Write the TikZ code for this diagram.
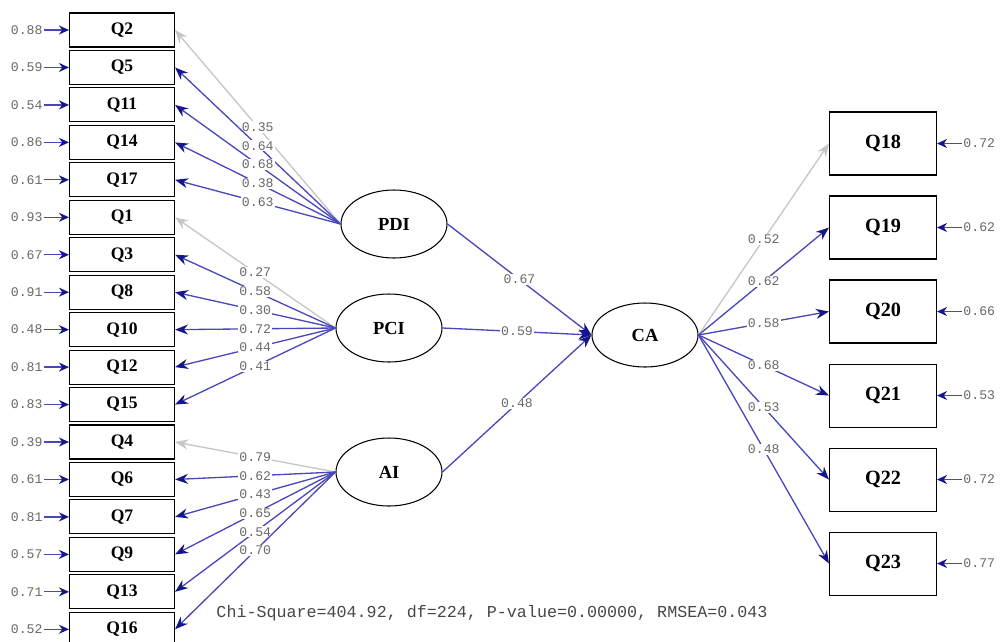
\documentclass[tikz,border=0pt]{standalone}
\usepackage{fontspec}
\setmainfont{Liberation Serif}
\setmonofont{Liberation Mono}
\usepackage{xcolor}
\usetikzlibrary{shapes.geometric,positioning,arrows.meta}
\definecolor{loadblue}{RGB}{72,72,186}
\definecolor{tipblue}{RGB}{22,22,140}
\definecolor{fixgray}{RGB}{198,198,198}
\definecolor{numgray}{RGB}{105,105,105}

\begin{document}
\begin{tikzpicture}[x=0.2mm, y=-0.2mm, node distance=0.48mm,
    item/.style={draw, rectangle, line width=0.6pt, minimum width=21mm, minimum height=6.8mm, inner sep=0pt, font=\fontsize{10}{12}\selectfont\bfseries},
    bigitem/.style={draw, rectangle, line width=0.6pt, minimum width=21.4mm, minimum height=12.6mm, inner sep=0pt, font=\fontsize{11.5}{13}\selectfont\bfseries},
    latent/.style={draw, ellipse, line width=0.6pt, minimum width=21.2mm, minimum height=13.6mm, inner sep=0pt, font=\fontsize{10.5}{12}\selectfont\bfseries},
    num/.style={font=\ttfamily\fontsize{7.5}{8}\selectfont, text=numgray, fill=white, inner sep=0.6pt},
    load/.style={draw=loadblue, line width=0.75pt, -{Stealth[length=2.6mm,width=2mm,color=tipblue]}},
    fixed/.style={draw=fixgray, line width=0.75pt, -{Stealth[length=2.6mm,width=2mm]}},
    errline/.style={draw=loadblue, line width=0.75pt, -{Stealth[length=2mm,width=1.8mm,color=tipblue]}}]
    \useasboundingbox (0,0) rectangle (1000,641);

    % indicators, left column
    \node [item] (Q2) at (122,30) {Q2};
    \node [item, below=of Q2] (Q5) {Q5};
    \node [item, below=of Q5] (Q11) {Q11};
    \node [item, below=of Q11] (Q14) {Q14};
    \node [item, below=of Q14] (Q17) {Q17};
    \node [item, below=of Q17] (Q1) {Q1};
    \node [item, below=of Q1] (Q3) {Q3};
    \node [item, below=of Q3] (Q8) {Q8};
    \node [item, below=of Q8] (Q10) {Q10};
    \node [item, below=of Q10] (Q12) {Q12};
    \node [item, below=of Q12] (Q15) {Q15};
    \node [item, below=of Q15] (Q4) {Q4};
    \node [item, below=of Q4] (Q6) {Q6};
    \node [item, below=of Q6] (Q7) {Q7};
    \node [item, below=of Q7] (Q9) {Q9};
    \node [item, below=of Q9] (Q13) {Q13};
    \node [item, below=of Q13] (Q16) {Q16};

    % error variances, left
    \node [num, left=5mm of Q2] (eQ2) {0.88};
    \node [num, left=5mm of Q5] (eQ5) {0.59};
    \node [num, left=5mm of Q11] (eQ11) {0.54};
    \node [num, left=5mm of Q14] (eQ14) {0.86};
    \node [num, left=5mm of Q17] (eQ17) {0.61};
    \node [num, left=5mm of Q1] (eQ1) {0.93};
    \node [num, left=5mm of Q3] (eQ3) {0.67};
    \node [num, left=5mm of Q8] (eQ8) {0.91};
    \node [num, left=5mm of Q10] (eQ10) {0.48};
    \node [num, left=5mm of Q12] (eQ12) {0.81};
    \node [num, left=5mm of Q15] (eQ15) {0.83};
    \node [num, left=5mm of Q4] (eQ4) {0.39};
    \node [num, left=5mm of Q6] (eQ6) {0.61};
    \node [num, left=5mm of Q7] (eQ7) {0.81};
    \node [num, left=5mm of Q9] (eQ9) {0.57};
    \node [num, left=5mm of Q13] (eQ13) {0.71};
    \node [num, left=5mm of Q16] (eQ16) {0.52};
    \draw [errline] (eQ2) -- (Q2);
    \draw [errline] (eQ5) -- (Q5);
    \draw [errline] (eQ11) -- (Q11);
    \draw [errline] (eQ14) -- (Q14);
    \draw [errline] (eQ17) -- (Q17);
    \draw [errline] (eQ1) -- (Q1);
    \draw [errline] (eQ3) -- (Q3);
    \draw [errline] (eQ8) -- (Q8);
    \draw [errline] (eQ10) -- (Q10);
    \draw [errline] (eQ12) -- (Q12);
    \draw [errline] (eQ15) -- (Q15);
    \draw [errline] (eQ4) -- (Q4);
    \draw [errline] (eQ6) -- (Q6);
    \draw [errline] (eQ7) -- (Q7);
    \draw [errline] (eQ9) -- (Q9);
    \draw [errline] (eQ13) -- (Q13);
    \draw [errline] (eQ16) -- (Q16);

    % latent variables
    \node [latent] (PDI) at (394,224) {PDI};
    \node [latent] (PCI) at (389,328) {PCI};
    \node [latent] (AI) at (389,472) {AI};
    \node [latent, minimum height=12.8mm] (CA) at (645,335) {CA};

    % loadings PDI
    \draw [fixed] (PDI.west) -- node [num] {0.35} (Q2.east);
    \draw [load] (PDI.west) -- node [num] {0.64} (Q5.east);
    \draw [load] (PDI.west) -- node [num] {0.68} (Q11.east);
    \draw [load] (PDI.west) -- node [num] {0.38} (Q14.east);
    \draw [load] (PDI.west) -- node [num] {0.63} (Q17.east);

    % loadings PCI
    \draw [fixed] (PCI.west) -- node [num] {0.27} (Q1.east);
    \draw [load] (PCI.west) -- node [num] {0.58} (Q3.east);
    \draw [load] (PCI.west) -- node [num] {0.30} (Q8.east);
    \draw [load] (PCI.west) -- node [num] {0.72} (Q10.east);
    \draw [load] (PCI.west) -- node [num] {0.44} (Q12.east);
    \draw [load] (PCI.west) -- node [num] {0.41} (Q15.east);

    % loadings AI
    \draw [fixed] (AI.west) -- node [num] {0.79} (Q4.east);
    \draw [load] (AI.west) -- node [num] {0.62} (Q6.east);
    \draw [load] (AI.west) -- node [num] {0.43} (Q7.east);
    \draw [load] (AI.west) -- node [num] {0.65} (Q9.east);
    \draw [load] (AI.west) -- node [num] {0.54} (Q13.east);
    \draw [load] (AI.west) -- node [num] {0.70} (Q16.east);

    % structural paths
    \draw [load] (PDI.east) -- node [num] {0.67} (CA.west);
    \draw [load] (PCI.east) -- node [num] {0.59} (CA.west);
    \draw [load] (AI.east) -- node [num] {0.48} (CA.west);

    % indicators, right column
    \node [bigitem] (Q18) at (883,143.5) {Q18};
    \node [bigitem, below=3.99mm of Q18] (Q19) {Q19};
    \node [bigitem, below=3.99mm of Q19] (Q20) {Q20};
    \node [bigitem, below=3.99mm of Q20] (Q21) {Q21};
    \node [bigitem, below=3.99mm of Q21] (Q22) {Q22};
    \node [bigitem, below=3.99mm of Q22] (Q23) {Q23};

    \draw [fixed] (CA.east) -- node [num] {0.52} (Q18.west);
    \draw [load] (CA.east) -- node [num] {0.62} (Q19.west);
    \draw [load] (CA.east) -- node [num] {0.58} (Q20.west);
    \draw [load] (CA.east) -- node [num] {0.68} (Q21.west);
    \draw [load] (CA.east) -- node [num] {0.53} (Q22.west);
    \draw [load] (CA.east) -- node [num] {0.48} (Q23.west);

    % error variances, right
    \node [num, right=5mm of Q18] (eQ18) {0.72};
    \node [num, right=5mm of Q19] (eQ19) {0.62};
    \node [num, right=5mm of Q20] (eQ20) {0.66};
    \node [num, right=5mm of Q21] (eQ21) {0.53};
    \node [num, right=5mm of Q22] (eQ22) {0.72};
    \node [num, right=5mm of Q23] (eQ23) {0.77};
    \draw [errline] (eQ18) -- (Q18);
    \draw [errline] (eQ19) -- (Q19);
    \draw [errline] (eQ20) -- (Q20);
    \draw [errline] (eQ21) -- (Q21);
    \draw [errline] (eQ22) -- (Q22);
    \draw [errline] (eQ23) -- (Q23);

    \node [font=\ttfamily\fontsize{9.5}{11}\selectfont, text=black!72] (fitline) at (492,613) {Chi-Square=404.92, df=224, P-value=0.00000, RMSEA=0.043};
\end{tikzpicture}
\end{document}
